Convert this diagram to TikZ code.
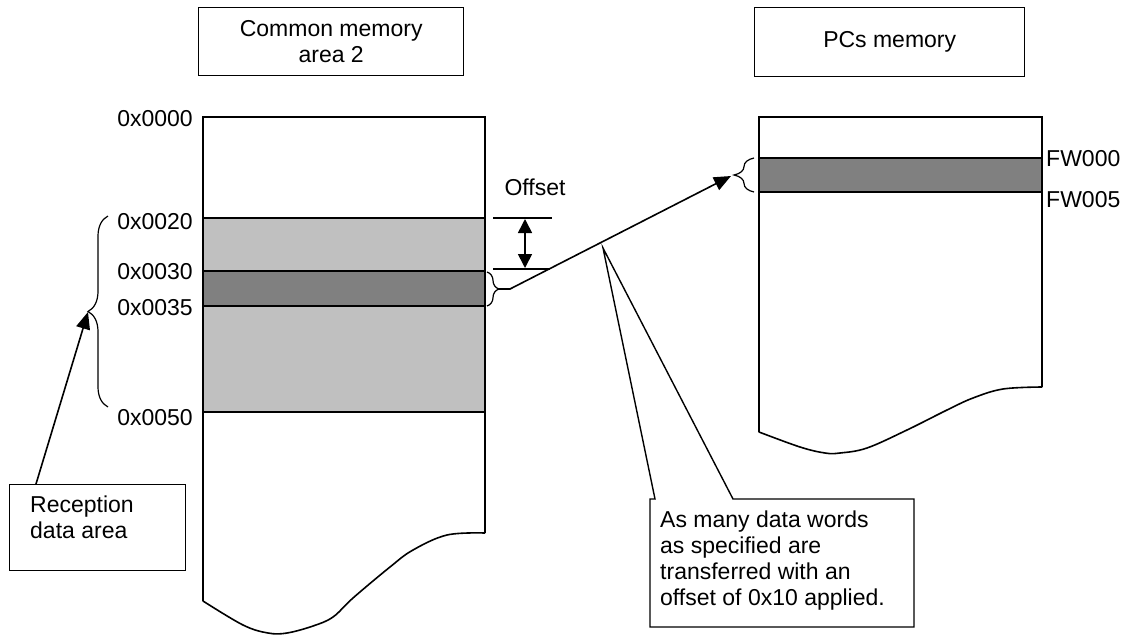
\documentclass[tikz,border=0pt]{standalone}
\usepackage{fontspec}
\setmainfont{Liberation Sans}
\usetikzlibrary{arrows.meta,decorations.pathreplacing}
\definecolor{lgray}{HTML}{C0C0C0}
\definecolor{dgray}{HTML}{808080}
\tikzset{
  txt/.style={font=\fontsize{23}{26}\selectfont, inner sep=0pt},
  boxline/.style={draw=black, line width=1.4pt},
  memline/.style={draw=black, line width=1.6pt},
  bracestyle/.style={decorate, line width=1.2pt},
  tri/.style={-{Triangle[length=17pt,width=14pt]}, line width=1.6pt},
  dtri/.style={{Triangle[length=14pt,width=14pt]}-{Triangle[length=14pt,width=14pt]}, line width=1.6pt},
}
\begin{document}
\begin{tikzpicture}[x=1pt,y=-1pt]
\useasboundingbox (0,0) rectangle (1134,634);

% title boxes
\node[boxline, minimum width=265pt, minimum height=68pt, anchor=north west] (tl) at (198,7) {};
\node[txt, align=center] (tltxt) at (tl.center) {Common memory\\area 2};
\node[boxline, minimum width=270pt, minimum height=69pt, anchor=north west] (tr) at (754,7) {};
\node[txt] (trtxt) at (tr.center) {PCs memory};

% left memory
\path[fill=white] (203,117) -- (485,117) -- (485,533)
  plot[smooth, tension=0.6] coordinates {(485,533) (447,535) (413,550) (390,567) (353,598) (333,617) (313,626) (287,633) (268,633) (243,625) (203,601)} -- cycle;
\fill[lgray] (203,218) rectangle (485,412);
\fill[dgray] (203,271) rectangle (485,306);
\draw[line width=1.4pt] (203,218) -- (485,218);
\draw[line width=1.4pt] (203,412) -- (485,412);
\draw[line width=1.4pt] (203,271) -- (485,271);
\draw[line width=1.4pt] (203,306) -- (485,306);
\draw[memline] (203,601) -- (203,117) -- (485,117) -- (485,533)
  plot[smooth, tension=0.6] coordinates {(485,533) (447,535) (413,550) (390,567) (353,598) (333,617) (313,626) (287,633) (268,633) (243,625) (203,601)};

% right memory
\path[fill=white] (759,117) -- (1042,117) -- (1042,387)
  plot[smooth, tension=0.6] coordinates {(1042,387) (1003,389) (973,398) (947,410) (907,430) (867,448) (840,453) (825,453) (800,447) (759,432)} -- cycle;
\fill[dgray] (759,158) rectangle (1042,192);
\draw[line width=1.4pt] (759,158) -- (1042,158);
\draw[line width=1.4pt] (759,192) -- (1042,192);
\draw[memline] (759,432) -- (759,117) -- (1042,117) -- (1042,387)
  plot[smooth, tension=0.6] coordinates {(1042,387) (1003,389) (973,398) (947,410) (907,430) (867,448) (840,453) (825,453) (800,447) (759,432)};

% address labels
\node[txt, anchor=east] (a0) at (193,119) {0x0000};
\node[txt, anchor=east] (a20) at (193,222) {0x0020};
\node[txt, anchor=east] (a30) at (193,272) {0x0030};
\node[txt, anchor=east] (a35) at (193,308) {0x0035};
\node[txt, anchor=east] (a50) at (193,418) {0x0050};
\node[txt, anchor=west] (f0) at (1046,159) {FW000};
\node[txt, anchor=west] (f5) at (1046,200) {FW005};

% braces
\coordinate (lbB) at (108,407);
\coordinate (lbT) at (108,216);
\draw[bracestyle, decoration={brace, amplitude=20pt}] (lbB) -- (lbT);
\coordinate (lbtip) at (88,312);
\coordinate (sbT) at (487,272);
\coordinate (sbB) at (487,306);
\draw[bracestyle, decoration={brace, amplitude=12pt}] (sbT) -- (sbB);
\coordinate (sbtip) at (499,289);
\coordinate (rbB) at (754,192);
\coordinate (rbT) at (754,158);
\draw[bracestyle, decoration={brace, amplitude=20pt}] (rbB) -- (rbT);
\coordinate (rbtip) at (731,176);

% transfer arrow
\coordinate (bend) at (510,289);
\draw[tri] (sbtip) -- (bend) -- (rbtip);

% offset
\coordinate (o1a) at (493,218); \coordinate (o1b) at (552,218);
\coordinate (o2a) at (493,269); \coordinate (o2b) at (550,269);
\draw[line width=1.3pt] (o1a) -- (o1b);
\draw[line width=1.3pt] (o2a) -- (o2b);
\draw[dtri] (525,219) -- (525,268);
\node[txt] (off) at (535,187) {Offset};

% reception box
\node[boxline, minimum width=176pt, minimum height=86pt, anchor=north west] (rec) at (9,484) {};
\node[txt, align=left, anchor=north west] (rectxt) at (30,496) {Reception\\data area};
\draw[tri] (36,484) -- (lbtip);

% callout
\coordinate (apex) at (603,248);
\draw[boxline, fill=white] (655,499) -- (apex) -- (733,499) -- (914,499) -- (914,627) -- (650,627) -- (650,499) -- cycle;
\node[txt, align=left, anchor=north west] (calltxt) at (660,511) {As many data words\\as specified are\\transferred with an\\offset of 0x10 applied.};
\end{tikzpicture}
\end{document}
